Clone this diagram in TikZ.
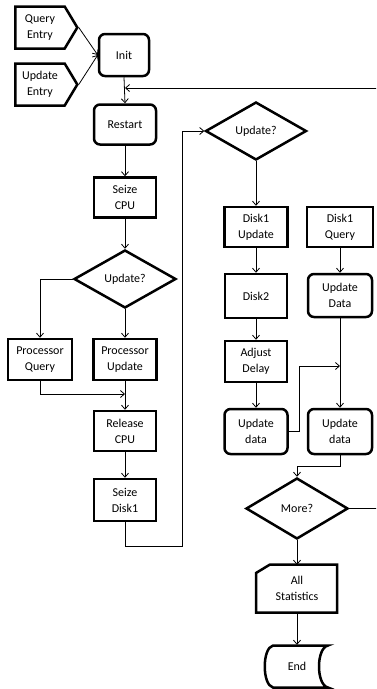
\documentclass[tikz,border=0pt]{standalone}
\usepackage{fontspec}
\setmainfont{Carlito}
\usetikzlibrary{shapes.geometric,shapes.symbols,arrows.meta}
\begin{document}
\begin{tikzpicture}[x=1pt,y=-1pt,
  font=\fontsize{12}{16}\selectfont,
  proc/.style={draw, line width=2.5pt, align=center, inner sep=1pt},
  rproc/.style={proc, rounded corners=6pt},
  dec/.style={draw, diamond, line width=2.5pt, inner sep=0pt, align=center},
  sig/.style={draw, signal, signal to=east, signal pointer angle=118, line width=2.5pt,
    align=center, inner sep=1pt, minimum width=62, minimum height=42},
  plain/.style={align=center, inner sep=1pt},
  shapeline/.style={line width=2.5pt, line join=miter},
  conn/.style={line width=0.8pt, -{Straight Barb[length=4pt,width=7pt]}},
  wire/.style={line width=0.8pt}]
\useasboundingbox (0,0) rectangle (376,689);
\clip (0,0) rectangle (376,689);

% entries and left column
\node[sig] (qe) at (40,27.5) {Query\\Entry};
\node[sig] (ue) at (40,84.5) {Update\\Entry};
\node[rproc, minimum width=50, minimum height=42] (init) at (124,55) {Init};
\node[rproc, minimum width=62, minimum height=40] (restart) at (125,124.5) {Restart};
\node[proc, minimum width=62, minimum height=40] (scpu) at (125,197.5) {Seize\\CPU};
\node[dec, minimum width=102, minimum height=58] (u1) at (125,279) {Update?};
\node[proc, minimum width=64, minimum height=41] (pq) at (40,359.5) {Processor\\Query};
\node[proc, minimum width=63, minimum height=41] (pu) at (125,359.5) {Processor\\Update};
\node[proc, minimum width=62, minimum height=40] (rel) at (125,431) {Release\\CPU};
\node[proc, minimum width=62, minimum height=42] (sd) at (125,500) {Seize\\Disk1};

% right part
\node[dec, minimum width=101, minimum height=58] (u2) at (256,131) {Update?};
\node[proc, minimum width=63, minimum height=40] (d1u) at (256,227) {Disk1\\Update};
\node[proc, minimum width=66, minimum height=40] (d1q) at (340,227) {Disk1\\Query};
\node[proc, minimum width=62, minimum height=44] (d2) at (256,296) {Disk2};
\node[rproc, minimum width=64, minimum height=43] (upD) at (340,295.5) {Update\\Data};
\node[proc, minimum width=62, minimum height=41] (adj) at (256,361.5) {Adjust\\Delay};
\node[rproc, minimum width=63, minimum height=45] (udl) at (256,431.5) {Update\\data};
\node[rproc, minimum width=64, minimum height=45] (udr) at (340,431.5) {Update\\data};
\node[dec, minimum width=102, minimum height=61] (more) at (297,508.5) {More?};
\node[plain, minimum width=80, minimum height=47] (as) at (297,588.5) {All\\Statistics};
\node[plain, minimum width=60, minimum height=43] (end) at (297,666.5) {End};

% special outlines
\draw[shapeline] (256,573) -- (270,564.5) -- (337,564.5) -- (337,612.5) -- (256,612.5) -- cycle;
\draw[shapeline] (328,645.5) -- (273,645.5) .. controls (262,648) and (262,685) .. (273,687.5)
  -- (328,687.5) .. controls (316,685) and (316,648) .. (328,645.5) -- cycle;

% connectors
\coordinate (fb) at (125,88);
\coordinate (mq) at (125,394);
\coordinate (mj) at (340,366);
\draw[conn] (qe.east) -- (init.west);
\draw[conn] (ue.east) -- (init.west);
\draw[conn] (init.south) -- (restart.north);
\draw[conn] (more.east) -- (392,508.5) -- (392,88) -- (fb);
\draw[conn] (restart.south) -- (scpu.north);
\draw[conn] (scpu.south) -- (u1.north);
\draw[conn] (u1.west) -| (pq.north);
\draw[conn] (u1.south) -- (pu.north);
\draw[conn] (pu.south) -- (rel.north);
\draw[conn] (pq.south) |- (mq);
\draw[conn] (rel.south) -- (sd.north);
\draw[conn] (sd.south) |- (182,546) |- (u2.west);
\draw[conn] (u2.south) -- (d1u.north);
\draw[conn] (d1u.south) -- (d2.north);
\draw[conn] (d2.south) -- (adj.north);
\draw[conn] (adj.south) -- (udl.north);
\draw[conn] (d1q.south) -- (upD.north);
\draw[conn] (upD.south) -- (udr.north);
\draw[conn] (udl.east) -- (299,431.5) |- (mj);
\draw[conn] (udr.south) -- (340,466) -| (more.north);
\draw[conn] (more.south) -- (as.north);
\draw[conn] (as.south) -- (end.north);
\end{tikzpicture}
\end{document}
